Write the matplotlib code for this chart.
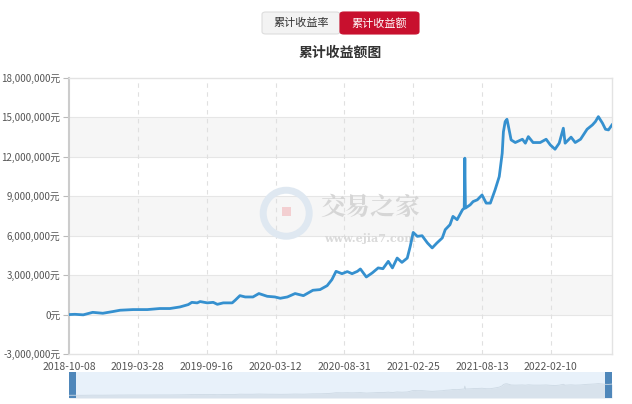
import matplotlib
matplotlib.use("Agg")
import matplotlib.pyplot as plt
from matplotlib.patches import FancyBboxPatch, Rectangle, Ellipse
from matplotlib.ticker import FuncFormatter, FixedLocator

plt.rcParams['font.family'] = ['Noto Sans CJK SC', 'DejaVu Sans']

# ---- data ----
tick_labels = ["2018-10-08", "2019-03-28", "2019-09-16", "2020-03-12",
               "2020-08-31", "2021-02-25", "2021-08-13", "2022-02-10"]
label_interval = 116          # trading days between axis labels
n_days = 916                  # number of trading days on the category axis

day_idx = [0, 10, 24, 40, 57, 74, 86, 108, 132, 153, 170, 187, 201, 207, 216,
           221, 233, 243, 250, 260, 275, 280, 288, 297, 310, 320, 334, 347,
           356, 368, 381, 395, 411, 423, 435, 443, 450, 460, 469, 477, 486,
           491, 501, 511, 521, 529, 538, 545, 553, 561, 570, 575, 580, 587,
           595, 604, 612, 620, 629, 634, 642, 647, 654, 663, 666, 667, 668,
           676, 681, 688, 696, 703, 710, 718, 725, 730, 732, 735, 738, 740,
           745, 752, 764, 769, 774, 782, 794, 804, 811, 819, 826, 833, 836,
           846, 853, 862, 873, 882, 887, 892, 899, 904, 909, 915]
profit_m = [0.0, 0.02, -0.02, 0.17, 0.10, 0.23, 0.33, 0.38, 0.38, 0.46, 0.46,
            0.58, 0.76, 0.93, 0.89, 0.99, 0.89, 0.93, 0.78, 0.89, 0.89, 1.09,
            1.44, 1.34, 1.34, 1.60, 1.39, 1.34, 1.24, 1.34, 1.60, 1.44, 1.85,
            1.90, 2.20, 2.66, 3.29, 3.11, 3.27, 3.11, 3.29, 3.47, 2.86, 3.17,
            3.55, 3.49, 4.05, 3.55, 4.30, 3.97, 4.30, 5.19, 6.25, 5.95, 6.00,
            5.45, 5.07, 5.45, 5.83, 6.46, 6.84, 7.47, 7.22, 7.97, 8.10, 11.90,
            8.10, 8.35, 8.60, 8.73, 9.10, 8.48, 8.48, 9.49, 10.50, 12.28,
            13.90, 14.68, 14.86, 14.43, 13.29, 13.09, 13.34, 13.04, 13.54,
            13.09, 13.09, 13.34, 12.91, 12.58, 13.04, 14.18, 13.04, 13.50,
            13.09, 13.34, 14.10, 14.43, 14.68, 15.06, 14.56, 14.10, 14.05,
            14.43]
profit = [v * 1e6 for v in profit_m]

y_ticks = [-3e6, 0, 3e6, 6e6, 9e6, 12e6, 15e6, 18e6]

# ---- figure ----
W, H = 632, 404
fig = plt.figure(figsize=(W / 100, H / 100), dpi=100)

def fx(px):
    return px / W

def fy(py):
    return 1 - py / H

AX_L, AX_R, AX_T, AX_B = 69, 612, 78, 354
ax = fig.add_axes([fx(AX_L), fy(AX_B), fx(AX_R) - fx(AX_L), fy(AX_T) - fy(AX_B)])
ax.set_xlim(0, n_days - 1)
ax.set_ylim(y_ticks[0], y_ticks[-1])

# alternating split areas
for i in range(len(y_ticks) - 1):
    if i % 2 == 1:
        ax.axhspan(y_ticks[i], y_ticks[i + 1], color="#f6f6f6", zorder=0, lw=0)
for t in y_ticks[1:-1]:
    ax.axhline(t, color="#e6e6e6", lw=0.8, zorder=1)
for i in range(1, len(tick_labels)):
    ax.axvline(i * label_interval, color="#e0e0e0", lw=0.8, ls=(0, (4, 4)), zorder=1)

# watermark
axw = AX_R - AX_L
axh = AX_B - AX_T
ax.add_patch(Ellipse((0.40, 0.51), 46 / axw, 46 / axh, transform=ax.transAxes,
                     fill=False, ec="#dfe8f1", lw=5, zorder=1))
ax.add_patch(Rectangle((0.392, 0.50), 9 / axw, 9 / axh, transform=ax.transAxes,
                       color="#f3cfd1", zorder=1, lw=0))
ax.text(0.555, 0.53, "交易之家", transform=ax.transAxes, fontsize=18,
        color="#d6d6d6", fontweight="bold", ha="center", va="center",
        family=["Noto Serif CJK SC", "Noto Sans CJK SC"], zorder=1)
ax.text(0.555, 0.42, "www.ejia7.com", transform=ax.transAxes, fontsize=8,
        color="#dadada", ha="center", va="center", family="DejaVu Serif",
        fontweight="bold", zorder=1)

ax.plot(day_idx, profit, color="#3590cf", lw=2.0, zorder=3,
        solid_joinstyle="round")

for s in ["top", "right", "bottom"]:
    ax.spines[s].set_color("#e3e3e3")
    ax.spines[s].set_linewidth(1.0)
ax.spines["left"].set_color("#cccccc")
ax.spines["left"].set_linewidth(1.5)

ax.yaxis.set_major_locator(FixedLocator(y_ticks))
ax.yaxis.set_major_formatter(FuncFormatter(lambda v, p: f"{int(round(v)):,}元"))
ax.tick_params(axis="y", length=4, color="#bbbbbb", labelsize=7,
               labelcolor="#555555", pad=2)
ax.set_xticks([i * label_interval for i in range(len(tick_labels))])
ax.set_xticklabels(tick_labels)
ax.tick_params(axis="x", length=0, labelsize=7.5, labelcolor="#555555", pad=6)

# title
fig.text(fx(340), fy(53), "累计收益额图", ha="center", va="center",
         fontsize=10, fontweight="bold", color="#333333")

# buttons
b1 = FancyBboxPatch((fx(262), fy(34)), fx(340) - fx(262), fy(12) - fy(34),
                    boxstyle="round,pad=0,rounding_size=0.006",
                    transform=fig.transFigure, fc="#f3f3f3", ec="#dddddd", lw=0.8)
b2 = FancyBboxPatch((fx(340), fy(34)), fx(419) - fx(340), fy(12) - fy(34),
                    boxstyle="round,pad=0,rounding_size=0.006",
                    transform=fig.transFigure, fc="#c8102e", ec="#c8102e", lw=0.8)
fig.patches.extend([b1, b2])
fig.text(fx(301), fy(23), "累计收益率", ha="center", va="center",
         fontsize=8, color="#333333")
fig.text(fx(379.5), fy(23), "累计收益额", ha="center", va="center",
         fontsize=8, color="white")

# data zoom slider
sax = fig.add_axes([fx(AX_L), fy(398), fx(AX_R) - fx(AX_L), fy(372) - fy(398)])
sax.set_facecolor("#e8f1fa")
sax.set_xlim(0, n_days - 1)
sax.set_ylim(-3.5e6, 30e6)
sax.fill_between(day_idx, -3.5e6, profit, color="#d8e2ec", lw=0)
sax.plot(day_idx, profit, color="#cdd9e4", lw=0.6)
sax.set_xticks([])
sax.set_yticks([])
for s in sax.spines.values():
    s.set_visible(False)
sax.add_patch(Rectangle((0, 0), 0.013, 1, transform=sax.transAxes,
                        color="#4f87ba", lw=0))
sax.add_patch(Rectangle((0.987, 0), 0.013, 1, transform=sax.transAxes,
                        color="#4f87ba", lw=0))

fig.savefig("out.png", dpi=100, facecolor="white")
